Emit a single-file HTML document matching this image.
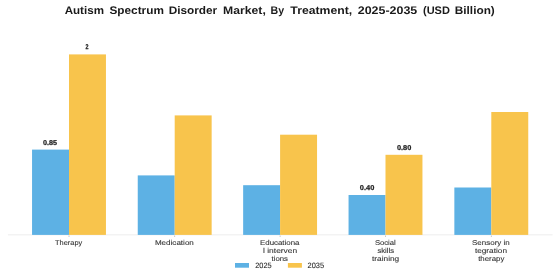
<!DOCTYPE html>
<html><head><meta charset="utf-8"><style>
html,body{margin:0;padding:0;width:560px;height:280px;overflow:hidden;background:#fff}
svg{display:block;font-family:"Liberation Sans",sans-serif;text-rendering:geometricPrecision;will-change:transform}
</style></head><body>
<svg width="560" height="280" viewBox="0 0 560 280">
<rect x="7.90" y="234.40" width="544.70" height="0.90" fill="#ebebeb"/>
<rect x="32.05" y="149.60" width="36.95" height="85.30" fill="#5DB1E4"/>
<rect x="69.00" y="54.40" width="36.95" height="180.50" fill="#F8C44C"/>
<rect x="68.60" y="235.60" width="0.80" height="1.20" fill="#aaa"/>
<rect x="137.75" y="175.40" width="36.95" height="59.50" fill="#5DB1E4"/>
<rect x="174.70" y="115.40" width="36.95" height="119.50" fill="#F8C44C"/>
<rect x="174.30" y="235.60" width="0.80" height="1.20" fill="#aaa"/>
<rect x="243.15" y="185.20" width="36.95" height="49.70" fill="#5DB1E4"/>
<rect x="280.10" y="134.70" width="36.95" height="100.20" fill="#F8C44C"/>
<rect x="279.70" y="235.60" width="0.80" height="1.20" fill="#aaa"/>
<rect x="348.55" y="195.00" width="36.95" height="39.90" fill="#5DB1E4"/>
<rect x="385.50" y="154.80" width="36.95" height="80.10" fill="#F8C44C"/>
<rect x="385.10" y="235.60" width="0.80" height="1.20" fill="#aaa"/>
<rect x="454.35" y="187.50" width="36.95" height="47.40" fill="#5DB1E4"/>
<rect x="491.30" y="112.00" width="36.95" height="122.90" fill="#F8C44C"/>
<rect x="490.90" y="235.60" width="0.80" height="1.20" fill="#aaa"/>
<rect x="235.00" y="263.00" width="14.00" height="4.70" fill="#5DB1E4"/>
<rect x="287.90" y="263.00" width="14.00" height="4.70" fill="#F8C44C"/>
<text x="64.65" y="14.40" font-size="11" font-weight="bold" fill="#1a1a1a" textLength="39.33" lengthAdjust="spacingAndGlyphs">Autism</text>
<text x="109.49" y="14.40" font-size="11" font-weight="bold" fill="#1a1a1a" textLength="54.40" lengthAdjust="spacingAndGlyphs">Spectrum</text>
<text x="168.65" y="14.40" font-size="11" font-weight="bold" fill="#1a1a1a" textLength="48.56" lengthAdjust="spacingAndGlyphs">Disorder</text>
<text x="223.08" y="14.40" font-size="11" font-weight="bold" fill="#1a1a1a" textLength="42.72" lengthAdjust="spacingAndGlyphs">Market,</text>
<text x="270.52" y="14.40" font-size="11" font-weight="bold" fill="#1a1a1a" textLength="13.58" lengthAdjust="spacingAndGlyphs">By</text>
<text x="290.37" y="14.40" font-size="11" font-weight="bold" fill="#1a1a1a" textLength="61.91" lengthAdjust="spacingAndGlyphs">Treatment,</text>
<text x="357.76" y="14.40" font-size="11" font-weight="bold" fill="#1a1a1a" textLength="59.54" lengthAdjust="spacingAndGlyphs">2025-2035</text>
<text x="423.01" y="14.40" font-size="11" font-weight="bold" fill="#1a1a1a" textLength="26.91" lengthAdjust="spacingAndGlyphs">(USD</text>
<text x="454.81" y="14.40" font-size="11" font-weight="bold" fill="#1a1a1a" textLength="39.99" lengthAdjust="spacingAndGlyphs">Billion)</text>
<text x="43.05" y="144.80" font-size="7" font-weight="bold" stroke="#222" stroke-width="0.25" fill="#222" textLength="14.01" lengthAdjust="spacingAndGlyphs">0.85</text>
<text x="85.39" y="49.20" font-size="7" font-weight="bold" stroke="#222" stroke-width="0.25" fill="#222" textLength="3.01" lengthAdjust="spacingAndGlyphs">2</text>
<text x="359.87" y="190.20" font-size="7" font-weight="bold" stroke="#222" stroke-width="0.25" fill="#222" textLength="14.44" lengthAdjust="spacingAndGlyphs">0.40</text>
<text x="396.95" y="150.20" font-size="7" font-weight="bold" stroke="#222" stroke-width="0.25" fill="#222" textLength="14.36" lengthAdjust="spacingAndGlyphs">0.80</text>
<text x="55.02" y="245.10" font-size="7" stroke="#333" stroke-width="0.1" fill="#333" textLength="27.23" lengthAdjust="spacingAndGlyphs">Therapy</text>
<text x="154.93" y="245.10" font-size="7" stroke="#333" stroke-width="0.1" fill="#333" textLength="38.92" lengthAdjust="spacingAndGlyphs">Medication</text>
<text x="260.01" y="245.10" font-size="7" stroke="#333" stroke-width="0.1" fill="#333" textLength="39.42" lengthAdjust="spacingAndGlyphs">Educationa</text>
<text x="263.05" y="253.10" font-size="7" stroke="#333" stroke-width="0.1" fill="#333" textLength="34.15" lengthAdjust="spacingAndGlyphs">l interven</text>
<text x="271.54" y="261.10" font-size="7" stroke="#333" stroke-width="0.1" fill="#333" textLength="16.45" lengthAdjust="spacingAndGlyphs">tions</text>
<text x="374.95" y="245.10" font-size="7" stroke="#333" stroke-width="0.1" fill="#333" textLength="20.85" lengthAdjust="spacingAndGlyphs">Social</text>
<text x="377.44" y="253.10" font-size="7" stroke="#333" stroke-width="0.1" fill="#333" textLength="16.62" lengthAdjust="spacingAndGlyphs">skills</text>
<text x="372.03" y="261.10" font-size="7" stroke="#333" stroke-width="0.1" fill="#333" textLength="27.21" lengthAdjust="spacingAndGlyphs">training</text>
<text x="472.05" y="245.10" font-size="7" stroke="#333" stroke-width="0.1" fill="#333" textLength="37.63" lengthAdjust="spacingAndGlyphs">Sensory in</text>
<text x="474.91" y="253.10" font-size="7" stroke="#333" stroke-width="0.1" fill="#333" textLength="32.10" lengthAdjust="spacingAndGlyphs">tegration</text>
<text x="478.19" y="261.10" font-size="7" stroke="#333" stroke-width="0.1" fill="#333" textLength="26.14" lengthAdjust="spacingAndGlyphs">therapy</text>
<text x="255.25" y="267.75" font-size="7.7" stroke="#2a2a2a" stroke-width="0.1" fill="#2a2a2a" textLength="16.41" lengthAdjust="spacingAndGlyphs">2025</text>
<text x="307.54" y="267.75" font-size="7.7" stroke="#2a2a2a" stroke-width="0.1" fill="#2a2a2a" textLength="16.58" lengthAdjust="spacingAndGlyphs">2035</text>
</svg>
</body></html>
